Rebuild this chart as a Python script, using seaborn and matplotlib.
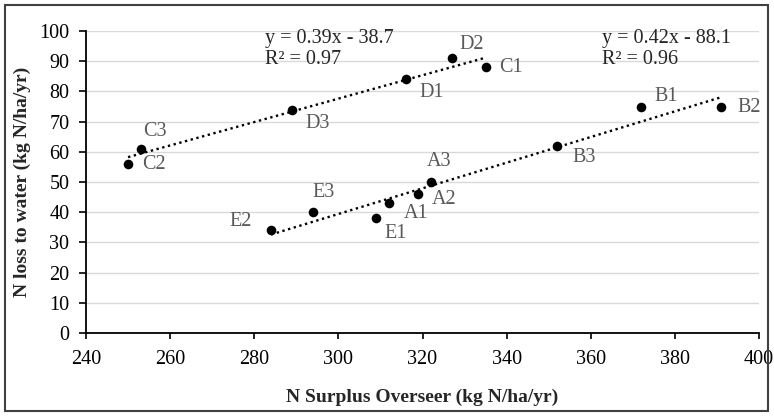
import pandas as pd
import numpy as np
import matplotlib.pyplot as plt
import seaborn as sns
from matplotlib.patches import Rectangle

# Data
labels_cd = ["C2", "C3", "D3", "D1", "D2", "C1"]
surplus_cd = [250, 253, 289, 316, 327, 335]
loss_cd = [56, 61, 74, 84, 91, 88]

labels_abe = ["E2", "E3", "E1", "A1", "A2", "A3", "B3", "B1", "B2"]
surplus_abe = [284, 294, 309, 312, 319, 322, 352, 372, 391]
loss_abe = [34, 40, 38, 43, 46, 50, 62, 75, 75]

x_ticks = [240, 260, 280, 300, 320, 340, 360, 380, 400]
y_ticks = [0, 10, 20, 30, 40, 50, 60, 70, 80, 90, 100]

df_cd = pd.DataFrame({"label": labels_cd, "surplus": surplus_cd, "loss": loss_cd})
df_abe = pd.DataFrame({"label": labels_abe, "surplus": surplus_abe, "loss": loss_abe})
df = pd.concat([df_cd, df_abe], ignore_index=True)

# label offsets in pixels (dx, dy, ha)
offsets = {
    "C2": (14, -1, "left"), "C3": (2, 17, "left"), "D3": (13, -14, "left"),
    "D1": (14, -13, "left"), "D2": (7, 14, "left"), "C1": (14, 0, "left"),
    "E2": (-19, 9, "right"), "E3": (-1, 20, "left"), "E1": (8, -15, "left"),
    "A1": (15, -10, "left"), "A2": (14, -5, "left"), "A3": (-4, 20, "left"),
    "B3": (15, -12, "left"), "B1": (13, 10, "left"), "B2": (16, -1, "left"),
}

sns.set_style("white")
plt.rcParams["font.family"] = ["Liberation Serif", "DejaVu Serif"]

fig = plt.figure(figsize=(7.74, 4.16), dpi=100)
ax = fig.add_axes([86 / 774, 1 - 333 / 416, (759 - 86) / 774, (333 - 31) / 416])

ax.yaxis.grid(True, color="#d9d9d9", linewidth=1)
ax.set_axisbelow(True)

# dotted linear trendlines per group
for d in [df_cd, df_abe]:
    sns.regplot(data=d, x="surplus", y="loss", ci=None, scatter=False, ax=ax,
                line_kws=dict(color="black", linestyle=(0, (1, 1.5)), linewidth=1.7))

sns.scatterplot(data=df, x="surplus", y="loss", color="black", s=48,
                edgecolor="black", linewidth=0, ax=ax, zorder=3)

for _, r in df.iterrows():
    dx, dy, ha = offsets[r["label"]]
    ax.annotate(r["label"], (r["surplus"], r["loss"]), xytext=(dx, dy),
                textcoords="offset pixels", ha=ha, va="center",
                fontsize=14.5, color="#595959")

# trendline equations
for d, tx in [(df_cd, 282.6), (df_abe, 362.6)]:
    m, b = np.polyfit(d["surplus"], d["loss"], 1)
    r2 = np.corrcoef(d["surplus"], d["loss"])[0, 1] ** 2
    ax.text(tx, 97.6, f"y = {m:.2f}x - {abs(b):.1f}", fontsize=14.5, va="center")
    ax.text(tx, 90.4, f"R² = {r2:.2f}", fontsize=14.5, va="center")

ax.set_xlim(240, 400)
ax.set_ylim(0, 100)
ax.set_xticks(x_ticks)
ax.set_yticks(y_ticks)
ax.tick_params(axis="x", labelsize=14.5, length=4.5, width=1.2, direction="out",
               bottom=True, colors="black", pad=8)
ax.tick_params(axis="y", labelsize=14.5, length=5, width=1.2, direction="out",
               left=True, colors="black", pad=7)

for s in ["top", "right"]:
    ax.spines[s].set_visible(False)
for s in ["left", "bottom"]:
    ax.spines[s].set_color("black")
    ax.spines[s].set_linewidth(1.3)

ax.set_xlabel("N Surplus Overseer (kg N/ha/yr)", fontsize=14, fontweight="bold", labelpad=14)
ax.set_ylabel("N loss to water (kg N/ha/yr)", fontsize=14, fontweight="bold", labelpad=6)

fig.patches.append(Rectangle((5 / 774, 5 / 416), 763 / 774, 406 / 416,
                             transform=fig.transFigure, fill=False,
                             edgecolor="#404040", linewidth=1.5))

fig.savefig("out.png", dpi=100)
plt.close()
